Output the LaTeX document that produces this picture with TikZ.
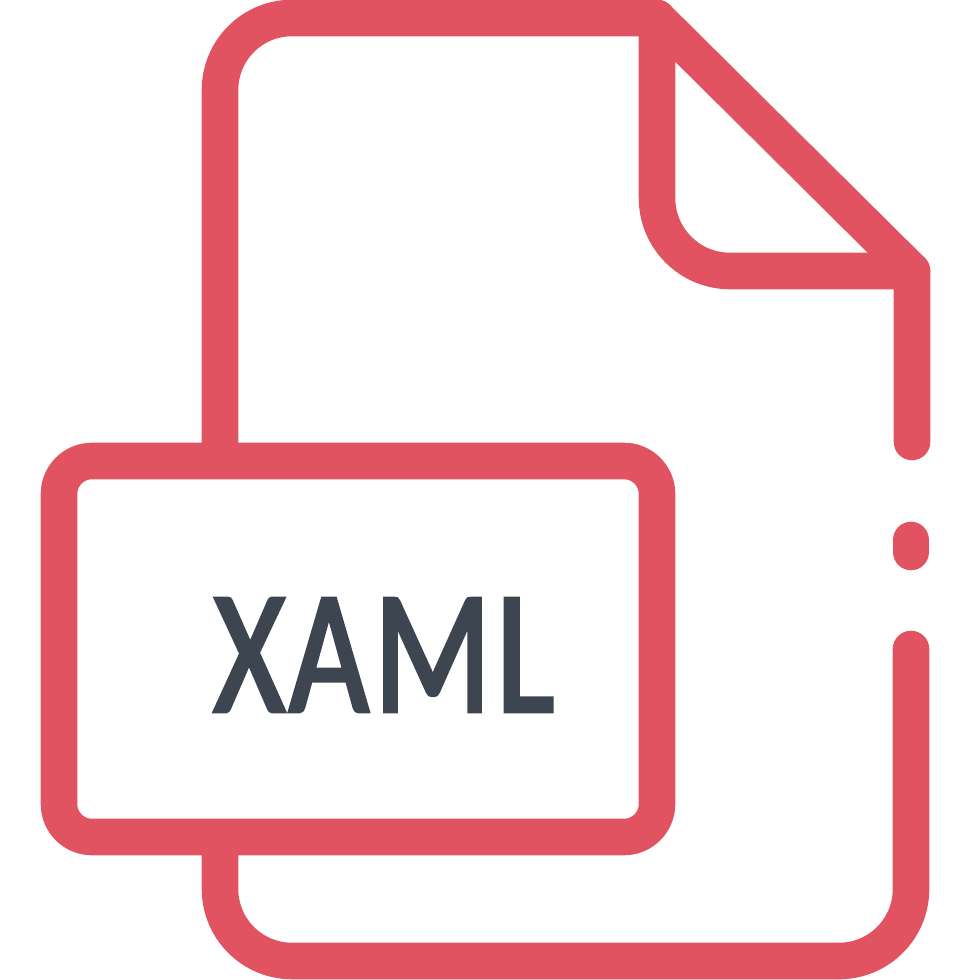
\documentclass[tikz,border=0pt]{standalone}
\usepackage{fontspec}
\setmainfont{Carlito}
\newfontfamily\xamlfont[FakeStretch=0.78,FakeBold=2.2,LetterSpace=3,Kerning=Off]{Carlito}
\definecolor{iconred}{HTML}{E25361}
\definecolor{icondark}{HTML}{3D4650}
\tikzset{iconline/.style={draw=iconred,line width=10.4pt,line cap=round,line join=round}}
\begin{document}
\begin{tikzpicture}[x=0.01cm,y=-0.01cm]
\useasboundingbox (0,0) rectangle (972,980);
% page outline
\draw[iconline] (220,444) -- (220,90) arc[start angle=180,end angle=90,x radius=72,y radius=-72] -- (657,18) -- (912,271) -- (912,442);
\draw[iconline] (911,540) -- (911,552);
\draw[iconline] (911,649) -- (911,889) arc[start angle=0,end angle=-90,x radius=72,y radius=-72] -- (292,961) arc[start angle=270,end angle=180,x radius=72,y radius=-72] -- (220,855);
% fold
\draw[iconline] (657,18) -- (657,198) arc[start angle=180,end angle=270,x radius=73,y radius=-73] -- (912,271);
% label box
\draw[iconline] (92,461) -- (624,461) arc[start angle=90,end angle=0,x radius=33,y radius=-33] -- (657,804) arc[start angle=0,end angle=-90,x radius=33,y radius=-33] -- (92,837) arc[start angle=270,end angle=180,x radius=33,y radius=-33] -- (59,494) arc[start angle=180,end angle=90,x radius=33,y radius=-33] -- cycle;
% label
\node[text=icondark,font=\xamlfont\fontsize{50}{50}\selectfont,inner sep=0pt] (xamllabel) at (384,655) {X\kern1.2pt AML};
\end{tikzpicture}
\end{document}
